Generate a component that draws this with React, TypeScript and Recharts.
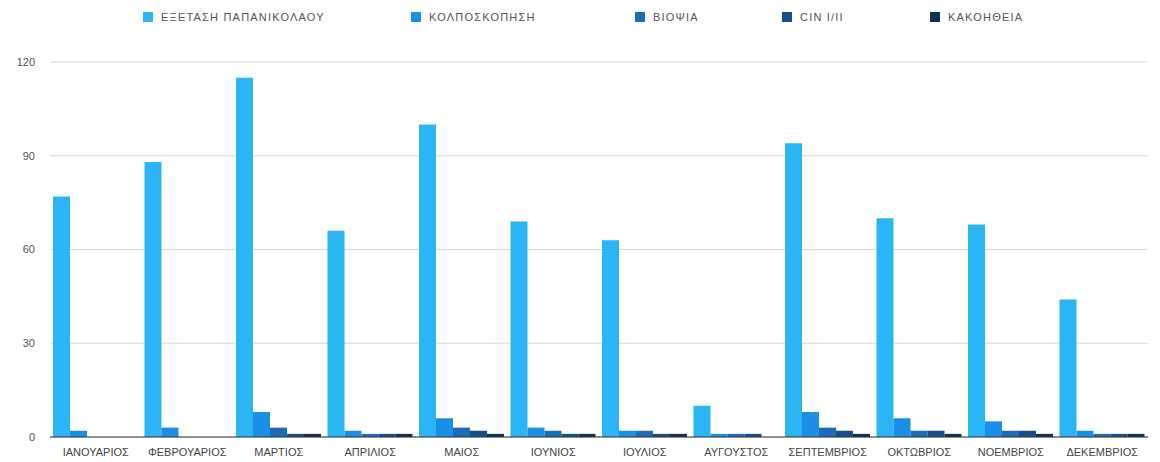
import React from "react";
import { BarChart, Bar, XAxis, YAxis, CartesianGrid } from "recharts";

const months = [
  "ΙΑΝΟΥΑΡΙΟΣ",
  "ΦΕΒΡΟΥΑΡΙΟΣ",
  "ΜΑΡΤΙΟΣ",
  "ΑΠΡΙΛΙΟΣ",
  "ΜΑΙΟΣ",
  "ΙΟΥΝΙΟΣ",
  "ΙΟΥΛΙΟΣ",
  "ΑΥΓΟΥΣΤΟΣ",
  "ΣΕΠΤΕΜΒΡΙΟΣ",
  "ΟΚΤΩΒΡΙΟΣ",
  "ΝΟΕΜΒΡΙΟΣ",
  "ΔΕΚΕΜΒΡΙΟΣ",
];

const papanikolaou = [77, 88, 115, 66, 100, 69, 63, 10, 94, 70, 68, 44];
const kolposkopisi = [2, 3, 8, 2, 6, 3, 2, 1, 8, 6, 5, 2];
const viopsia = [0, 0, 3, 1, 3, 2, 2, 1, 3, 2, 2, 1];
const cin = [0, 0, 1, 1, 2, 1, 1, 1, 2, 2, 2, 1];
const kakoitheia = [0, 0, 1, 1, 1, 1, 1, 0, 1, 1, 1, 1];

const yTicks = [0, 30, 60, 90, 120];

const series = [
  { key: "pap", name: "ΕΞΕΤΑΣΗ ΠΑΠΑΝΙΚΟΛΑΟΥ", color: "#2bb5f4", w: 268 },
  { key: "kolp", name: "ΚΟΛΠΟΣΚΟΠΗΣΗ", color: "#1b8fe6", w: 224 },
  { key: "viop", name: "ΒΙΟΨΙΑ", color: "#1c6db5", w: 147 },
  { key: "cin", name: "CIN I/II", color: "#154e8b", w: 148 },
  { key: "kak", name: "ΚΑΚΟΗΘΕΙΑ", color: "#10305a", w: 150 },
];

const data = months.map((m, i) => ({
  month: m,
  pap: papanikolaou[i],
  kolp: kolposkopisi[i],
  viop: viopsia[i],
  cin: cin[i],
  kak: kakoitheia[i],
}));

const FONT = "'Liberation Sans', Arial, sans-serif";

// legend drawn as plain html above the plot
const LegendRow = () => (
  <div
    style={{
      position: "absolute",
      top: 11,
      left: 0,
      display: "flex",
      paddingLeft: 143,
      alignItems: "center",
      fontFamily: FONT,
      fontSize: 11,
      letterSpacing: 1.2,
      color: "#555",
      whiteSpace: "nowrap",
    }}
  >
    {series.map((s) => (
      <div
        key={s.key}
        style={{ display: "flex", alignItems: "center", width: s.w }}
      >
        <span
          style={{
            display: "inline-block",
            width: 10,
            height: 10,
            background: s.color,
            marginRight: 8,
          }}
        />
        <span>{s.name}</span>
      </div>
    ))}
  </div>
);

export default function App() {
  return (
    <div
      style={{
        position: "absolute",
        left: 0,
        top: 0,
        width: 1160,
        height: 462,
        background: "#fff",
      }}
    >
      <LegendRow />
      <BarChart
        width={1160}
        height={462}
        data={data}
        margin={{ top: 62, right: 12, left: 6, bottom: 5 }}
        barCategoryGap={3}
        barGap={0}
      >
        <CartesianGrid vertical={false} stroke="#d8d8d8" />
        <XAxis
          dataKey="month"
          interval={0}
          tickLine={false}
          axisLine={{ stroke: "#333" }}
          tick={{ fill: "#444", fontSize: 11, fontFamily: FONT }}
          height={20}
          tickMargin={5}
        />
        <YAxis
          ticks={yTicks}
          domain={[0, 120]}
          axisLine={false}
          tickLine={false}
          width={44}
          tick={{ fill: "#555", fontSize: 11, fontFamily: FONT }}
          tickMargin={9}
        />
        {series.map((s) => (
          <Bar
            key={s.key}
            dataKey={s.key}
            name={s.name}
            fill={s.color}
            isAnimationActive={false}
          />
        ))}
      </BarChart>
    </div>
  );
}
